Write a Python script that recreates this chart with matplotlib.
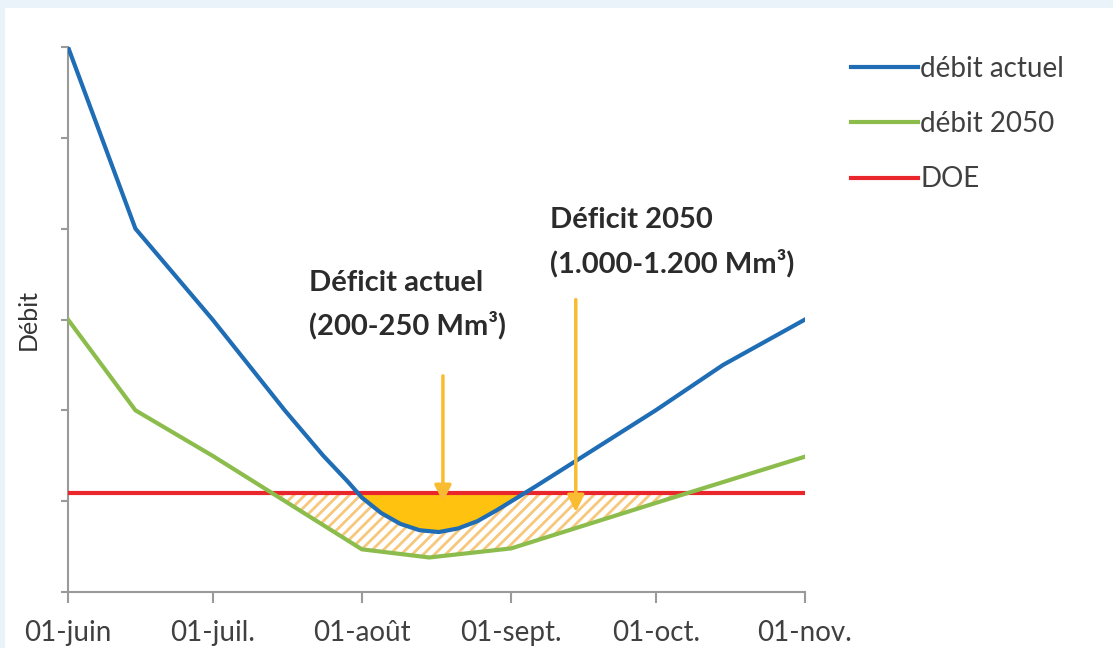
import pandas as pd
import matplotlib.pyplot as plt
from matplotlib.patches import Rectangle

plt.rcParams['font.family'] = ['Lato', 'DejaVu Sans']
plt.rcParams['hatch.linewidth'] = 2.0

# flows (arbitrary units)
blue_dates = pd.to_datetime(['2021-06-01', '2021-06-15', '2021-07-01', '2021-07-16', '2021-07-24',
                             '2021-07-29', '2021-08-01', '2021-08-05', '2021-08-09', '2021-08-13',
                             '2021-08-17', '2021-08-21', '2021-08-25', '2021-08-29', '2021-09-02',
                             '2021-09-06', '2021-10-01', '2021-10-15', '2021-11-01'])
debit_actuel = [6.0, 4.0, 3.0, 2.0, 1.50, 1.22, 1.04, 0.87, 0.75, 0.68,
                0.66, 0.70, 0.78, 0.90, 1.03, 1.16, 2.0, 2.5, 3.0]

green_dates = pd.to_datetime(['2021-06-01', '2021-06-15', '2021-07-01', '2021-08-01',
                              '2021-08-15', '2021-09-01', '2021-10-01', '2021-11-01'])
debit_2050 = [3.0, 2.0, 1.5, 0.47, 0.38, 0.48, 0.98, 1.49]

doe = 1.09

tick_dates = pd.to_datetime(['2021-06-01', '2021-07-01', '2021-08-01',
                             '2021-09-01', '2021-10-01', '2021-11-01'])
tick_labels = ['01-juin', '01-juil.', '01-août', '01-sept.', '01-oct.', '01-nov.']

c_blue = '#1f6db5'
c_green = '#8cbd4c'
c_red = '#e8262b'
c_gold = '#ffc20e'
c_arrow = '#f9bb2f'
c_hatch = '#f7c77c'
c_text = '#404040'

fig = plt.figure(figsize=(11.13, 6.48), dpi=100)
fig.patch.set_facecolor('#eaf2fa')
fig.patches.append(Rectangle((5 / 1113, 0), 1, 1 - 8 / 648, transform=fig.transFigure,
                             facecolor='white', edgecolor='none', zorder=-5))
ax = fig.add_axes([68 / 1113, 56 / 648, 737 / 1113, 545 / 648])
ax.set_facecolor('none')
ax.set_zorder(2)

# hatched 2050 deficit, solid current deficit on top
doe_line = [doe] * len(green_dates)
ax.fill_between(green_dates, debit_2050, doe_line, where=[v < doe for v in debit_2050],
                interpolate=True, facecolor='none', edgecolor=c_hatch, hatch='///', linewidth=0)
ax.fill_between(blue_dates, debit_actuel, [doe] * len(blue_dates),
                where=[v < doe for v in debit_actuel], interpolate=True,
                color=c_gold, linewidth=0)

ax.plot(blue_dates, debit_actuel, color=c_blue, lw=3, label='débit actuel', zorder=4)
ax.plot(green_dates, debit_2050, color=c_green, lw=3, label='débit 2050', zorder=4)
ax.plot([tick_dates[0], tick_dates[-1]], [doe, doe], color=c_red, lw=3, label='DOE', zorder=3)

ax.annotate('', xy=(pd.Timestamp('2021-08-17 20:00'), 0.96),
            xytext=(pd.Timestamp('2021-08-17 20:00'), 2.41),
            arrowprops=dict(arrowstyle='-|>', color=c_arrow, lw=2.5, mutation_scale=25), zorder=5)
ax.annotate('', xy=(pd.Timestamp('2021-09-14 10:00'), 0.85),
            xytext=(pd.Timestamp('2021-09-14 10:00'), 3.25),
            arrowprops=dict(arrowstyle='-|>', color=c_arrow, lw=2.5, mutation_scale=25), zorder=5)

label_style = dict(fontsize=21, fontweight='bold', color='#2b2b2b', va='center', ha='left')
ax.text(pd.Timestamp('2021-07-21'), 3.40, 'Déficit actuel', **label_style)
ax.text(pd.Timestamp('2021-07-21'), 2.94, '(200-250 Mm³)', **label_style)
ax.text(pd.Timestamp('2021-09-09'), 4.10, 'Déficit 2050', **label_style)
ax.text(pd.Timestamp('2021-09-09'), 3.62, '(1.000-1.200 Mm³)', **label_style)

ax.set_xlim(tick_dates[0], tick_dates[-1])
ax.set_ylim(0, 6)
ax.set_xticks(tick_dates)
ax.set_xticklabels(tick_labels, fontsize=20, color=c_text)
ax.set_yticks(range(7))
ax.set_yticklabels([])
ax.tick_params(axis='x', length=8, width=1.5, color='#9a9a9a', pad=12)
ax.tick_params(axis='y', length=5, width=1.5, color='#9a9a9a')
for side in ['top', 'right']:
    ax.spines[side].set_visible(False)
for side in ['left', 'bottom']:
    ax.spines[side].set_color('#9a9a9a')
    ax.spines[side].set_linewidth(1.5)
ax.set_ylabel('Débit', fontsize=18, color='#333333', labelpad=12)

fig.legend(loc='upper left', bbox_to_anchor=(826 / 1113, 1 - 31 / 648), frameon=False,
           fontsize=20, handlelength=2.4, handletextpad=0.1, labelspacing=1.05,
           labelcolor=c_text)

plt.savefig('out.png', dpi=100)
